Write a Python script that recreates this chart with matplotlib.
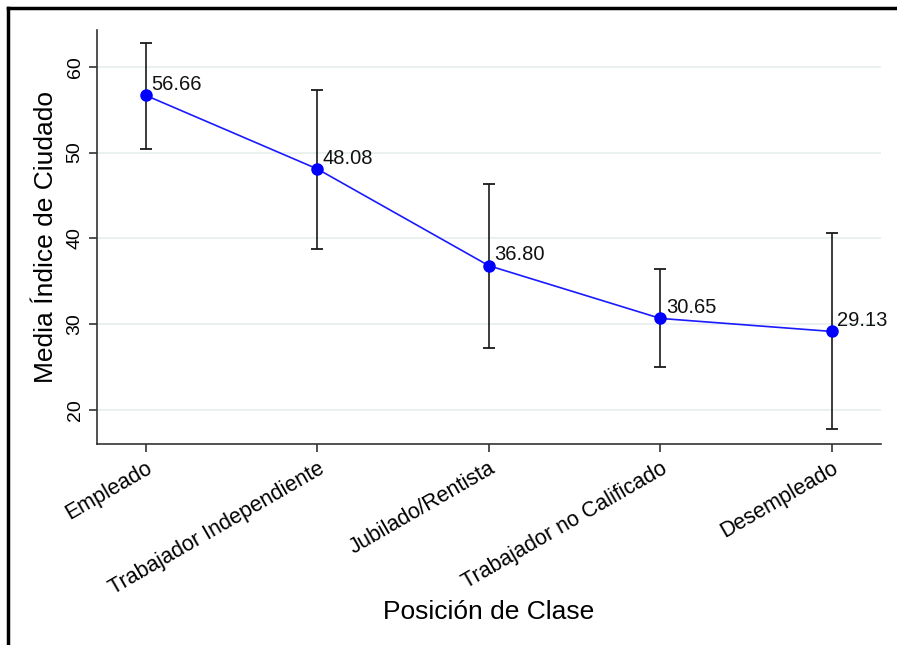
import numpy as np
import matplotlib.pyplot as plt
from matplotlib.lines import Line2D

categories = ['Empleado', 'Trabajador Independiente', 'Jubilado/Rentista',
              'Trabajador no Calificado', 'Desempleado']
means = [56.66, 48.08, 36.80, 30.65, 29.13]
upper = [62.8, 57.3, 46.3, 36.4, 40.6]
lower = [50.4, 38.8, 27.2, 25.0, 17.7]
yticks = [20, 30, 40, 50, 60]

plt.rcParams['font.family'] = ['Liberation Sans', 'DejaVu Sans']

fig = plt.figure(figsize=(8.97, 6.45), dpi=100)
ax = fig.add_axes([0.108, 0.3116, 0.874, 0.642])

x = np.arange(len(categories))
m = np.array(means)
yerr = [m - np.array(lower), np.array(upper) - m]

ax.errorbar(x, m, yerr=yerr, fmt='none', ecolor='#1a1a1a', elinewidth=1.2,
            capsize=4.5, capthick=1.3, zorder=2)
ax.plot(x, m, color='#1a1aff', lw=1.2, marker='o', markersize=8,
        markerfacecolor='#0000ff', markeredgecolor='#0000ff', zorder=3)

for xi, yi in zip(x, means):
    ax.annotate(f'{yi:.2f}', (xi, yi), xytext=(4, 1), textcoords='offset points',
                ha='left', va='bottom', fontsize=14.5, color='#111111')

ax.set_xlim(-0.286, 4.286)
ax.set_ylim(16.0, 64.3)
ax.set_yticks(yticks)
ax.set_yticklabels([str(t) for t in yticks], rotation=90, va='center', fontsize=14)
ax.set_xticks(x)
ax.set_xticklabels(categories, rotation=30, ha='right', rotation_mode='anchor',
                   fontsize=15.5)
ax.tick_params(axis='both', length=6, width=1.2, color='#333333')
ax.tick_params(axis='x', pad=4)

ax.grid(axis='y', color='#e8eeee', lw=1.2)
ax.set_axisbelow(True)
for s in ['top', 'right']:
    ax.spines[s].set_visible(False)
for s in ['left', 'bottom']:
    ax.spines[s].set_linewidth(1.2)
    ax.spines[s].set_color('#333333')

ax.set_ylabel('Media Índice de Ciudado', fontsize=19, labelpad=6)
fig.text(0.545, 0.051, 'Posición de Clase', ha='center', va='center', fontsize=19)

# outer frame (top and left edges visible)
fig.add_artist(Line2D([8 / 897, 1], [1 - 8 / 645, 1 - 8 / 645],
                      transform=fig.transFigure, color='black', lw=2.5))
fig.add_artist(Line2D([8 / 897, 8 / 897], [0, 1 - 8 / 645],
                      transform=fig.transFigure, color='black', lw=2.5))

fig.savefig('out.png', dpi=100)
